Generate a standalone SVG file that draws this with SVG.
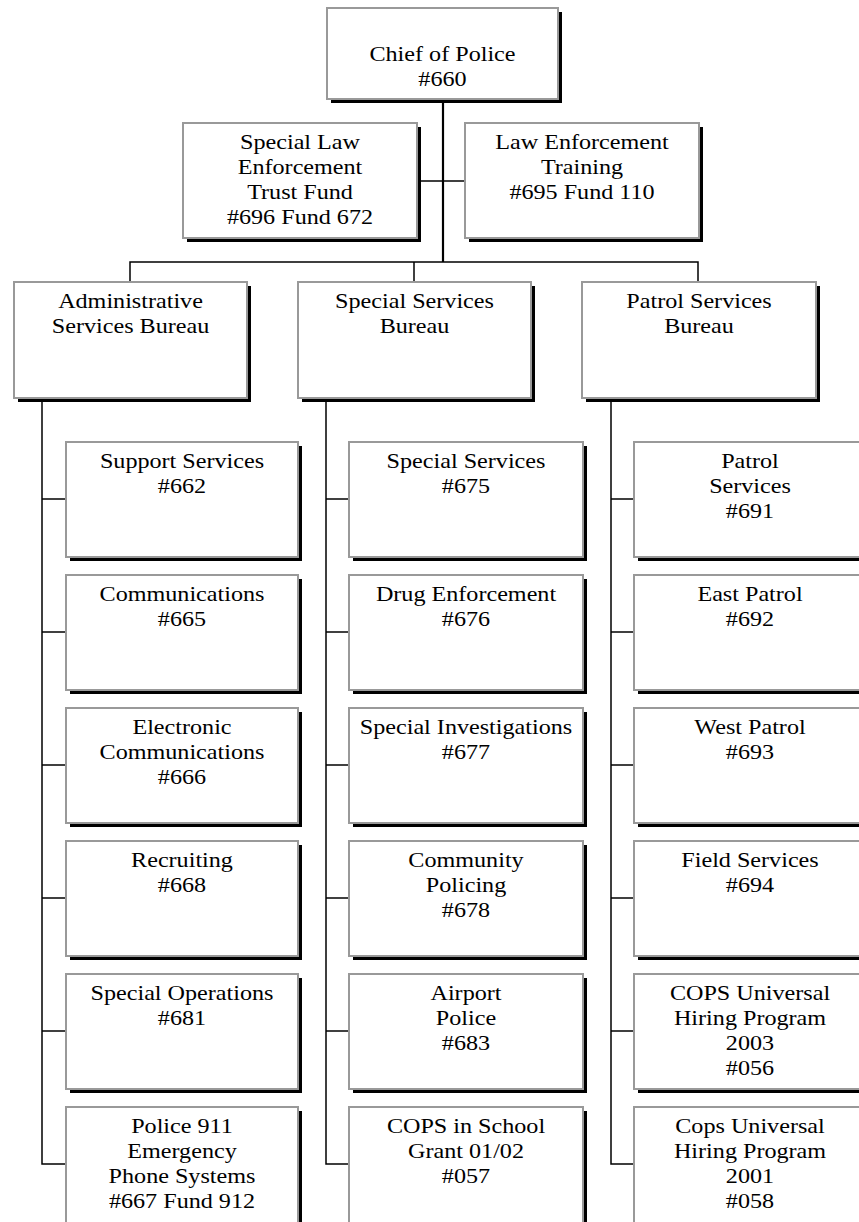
<svg xmlns="http://www.w3.org/2000/svg" width="859" height="1222" viewBox="0 0 859 1222">
<style>
.sh{fill:#000}
.bx{fill:#fff;stroke:#999;stroke-width:2}
.t{font-family:"Liberation Serif","Times New Roman",serif;font-size:21px;fill:#000;text-anchor:middle}
.ln{stroke:#000;stroke-width:1.5;fill:none}
.tr{stroke:#000;stroke-width:2.2;fill:none}
</style>
<rect width="859" height="1222" fill="#fff"/>
<g id="connectors">
<line class="tr" x1="443" y1="99" x2="443" y2="262"/>
<line class="ln" x1="417" y1="181" x2="465" y2="181"/>
<polyline class="ln" points="130,282 130,262 698,262 698,282"/>
<line class="ln" x1="414" y1="262" x2="414" y2="282"/>
<polyline class="ln" points="42,398 42,1164 66,1164"/>
<line class="ln" x1="42" y1="499" x2="66" y2="499"/>
<line class="ln" x1="42" y1="632" x2="66" y2="632"/>
<line class="ln" x1="42" y1="765" x2="66" y2="765"/>
<line class="ln" x1="42" y1="898" x2="66" y2="898"/>
<line class="ln" x1="42" y1="1031" x2="66" y2="1031"/>
<polyline class="ln" points="326,398 326,1164 349,1164"/>
<line class="ln" x1="326" y1="499" x2="349" y2="499"/>
<line class="ln" x1="326" y1="632" x2="349" y2="632"/>
<line class="ln" x1="326" y1="765" x2="349" y2="765"/>
<line class="ln" x1="326" y1="898" x2="349" y2="898"/>
<line class="ln" x1="326" y1="1031" x2="349" y2="1031"/>
<polyline class="ln" points="611,398 611,1164 634,1164"/>
<line class="ln" x1="611" y1="499" x2="634" y2="499"/>
<line class="ln" x1="611" y1="632" x2="634" y2="632"/>
<line class="ln" x1="611" y1="765" x2="634" y2="765"/>
<line class="ln" x1="611" y1="898" x2="634" y2="898"/>
<line class="ln" x1="611" y1="1031" x2="634" y2="1031"/>
</g>

<g id="n660"><rect class="sh" x="331" y="12" width="231" height="91"/><rect class="bx" x="327" y="8" width="231" height="91"/>
<text class="t" transform="translate(442.5,61) scale(1.15,1)"><tspan x="0">Chief of Police</tspan><tspan x="0" dy="25">#660</tspan></text></g>

<g id="n696"><rect class="sh" x="187" y="127" width="234" height="115"/><rect class="bx" x="183" y="123" width="234" height="115"/>
<text class="t" transform="translate(300,149) scale(1.15,1)"><tspan x="0">Special Law</tspan><tspan x="0" dy="25">Enforcement</tspan><tspan x="0" dy="25">Trust Fund</tspan><tspan x="0" dy="25">#696 Fund 672</tspan></text></g>

<g id="n695"><rect class="sh" x="469" y="127" width="234" height="115"/><rect class="bx" x="465" y="123" width="234" height="115"/>
<text class="t" transform="translate(582,149) scale(1.15,1)"><tspan x="0">Law Enforcement</tspan><tspan x="0" dy="25">Training</tspan><tspan x="0" dy="25">#695 Fund 110</tspan></text></g>

<g id="asb"><rect class="sh" x="18" y="286" width="233" height="116"/><rect class="bx" x="14" y="282" width="233" height="116"/>
<text class="t" transform="translate(130.5,308) scale(1.15,1)"><tspan x="0">Administrative</tspan><tspan x="0" dy="25">Services Bureau</tspan></text></g>

<g id="ssb"><rect class="sh" x="302" y="286" width="233" height="116"/><rect class="bx" x="298" y="282" width="233" height="116"/>
<text class="t" transform="translate(414.5,308) scale(1.15,1)"><tspan x="0">Special Services</tspan><tspan x="0" dy="25">Bureau</tspan></text></g>

<g id="psb"><rect class="sh" x="586" y="286" width="234" height="116"/><rect class="bx" x="582" y="282" width="234" height="116"/>
<text class="t" transform="translate(699,308) scale(1.15,1)"><tspan x="0">Patrol Services</tspan><tspan x="0" dy="25">Bureau</tspan></text></g>

<!-- Administrative column -->
<g id="n662"><rect class="sh" x="70" y="446" width="232" height="115"/><rect class="bx" x="66" y="442" width="232" height="115"/>
<text class="t" transform="translate(182,468) scale(1.15,1)"><tspan x="0">Support Services</tspan><tspan x="0" dy="25">#662</tspan></text></g>
<g id="n665"><rect class="sh" x="70" y="579" width="232" height="115"/><rect class="bx" x="66" y="575" width="232" height="115"/>
<text class="t" transform="translate(182,601) scale(1.15,1)"><tspan x="0">Communications</tspan><tspan x="0" dy="25">#665</tspan></text></g>
<g id="n666"><rect class="sh" x="70" y="712" width="232" height="115"/><rect class="bx" x="66" y="708" width="232" height="115"/>
<text class="t" transform="translate(182,734) scale(1.15,1)"><tspan x="0">Electronic</tspan><tspan x="0" dy="25">Communications</tspan><tspan x="0" dy="25">#666</tspan></text></g>
<g id="n668"><rect class="sh" x="70" y="845" width="232" height="115"/><rect class="bx" x="66" y="841" width="232" height="115"/>
<text class="t" transform="translate(182,867) scale(1.15,1)"><tspan x="0">Recruiting</tspan><tspan x="0" dy="25">#668</tspan></text></g>
<g id="n681"><rect class="sh" x="70" y="978" width="232" height="115"/><rect class="bx" x="66" y="974" width="232" height="115"/>
<text class="t" transform="translate(182,1000) scale(1.15,1)"><tspan x="0">Special Operations</tspan><tspan x="0" dy="25">#681</tspan></text></g>
<g id="n667"><rect class="sh" x="70" y="1111" width="232" height="120"/><rect class="bx" x="66" y="1107" width="232" height="125"/>
<text class="t" transform="translate(182,1133) scale(1.15,1)"><tspan x="0">Police 911</tspan><tspan x="0" dy="25">Emergency</tspan><tspan x="0" dy="25">Phone Systems</tspan><tspan x="0" dy="25">#667 Fund 912</tspan></text></g>

<!-- Special Services column -->
<g id="n675"><rect class="sh" x="353" y="446" width="234" height="115"/><rect class="bx" x="349" y="442" width="234" height="115"/>
<text class="t" transform="translate(466,468) scale(1.15,1)"><tspan x="0">Special Services</tspan><tspan x="0" dy="25">#675</tspan></text></g>
<g id="n676"><rect class="sh" x="353" y="579" width="234" height="115"/><rect class="bx" x="349" y="575" width="234" height="115"/>
<text class="t" transform="translate(466,601) scale(1.15,1)"><tspan x="0">Drug Enforcement</tspan><tspan x="0" dy="25">#676</tspan></text></g>
<g id="n677"><rect class="sh" x="353" y="712" width="234" height="115"/><rect class="bx" x="349" y="708" width="234" height="115"/>
<text class="t" transform="translate(466,734) scale(1.15,1)"><tspan x="0">Special Investigations</tspan><tspan x="0" dy="25">#677</tspan></text></g>
<g id="n678"><rect class="sh" x="353" y="845" width="234" height="115"/><rect class="bx" x="349" y="841" width="234" height="115"/>
<text class="t" transform="translate(466,867) scale(1.15,1)"><tspan x="0">Community</tspan><tspan x="0" dy="25">Policing</tspan><tspan x="0" dy="25">#678</tspan></text></g>
<g id="n683"><rect class="sh" x="353" y="978" width="234" height="115"/><rect class="bx" x="349" y="974" width="234" height="115"/>
<text class="t" transform="translate(466,1000) scale(1.15,1)"><tspan x="0">Airport</tspan><tspan x="0" dy="25">Police</tspan><tspan x="0" dy="25">#683</tspan></text></g>
<g id="n057"><rect class="sh" x="353" y="1111" width="234" height="120"/><rect class="bx" x="349" y="1107" width="234" height="125"/>
<text class="t" transform="translate(466,1133) scale(1.15,1)"><tspan x="0">COPS in School</tspan><tspan x="0" dy="25">Grant 01/02</tspan><tspan x="0" dy="25">#057</tspan></text></g>

<!-- Patrol column -->
<g id="n691"><rect class="sh" x="638" y="446" width="232" height="115"/><rect class="bx" x="634" y="442" width="232" height="115"/>
<text class="t" transform="translate(750,468) scale(1.15,1)"><tspan x="0">Patrol</tspan><tspan x="0" dy="25">Services</tspan><tspan x="0" dy="25">#691</tspan></text></g>
<g id="n692"><rect class="sh" x="638" y="579" width="232" height="115"/><rect class="bx" x="634" y="575" width="232" height="115"/>
<text class="t" transform="translate(750,601) scale(1.15,1)"><tspan x="0">East Patrol</tspan><tspan x="0" dy="25">#692</tspan></text></g>
<g id="n693"><rect class="sh" x="638" y="712" width="232" height="115"/><rect class="bx" x="634" y="708" width="232" height="115"/>
<text class="t" transform="translate(750,734) scale(1.15,1)"><tspan x="0">West Patrol</tspan><tspan x="0" dy="25">#693</tspan></text></g>
<g id="n694"><rect class="sh" x="638" y="845" width="232" height="115"/><rect class="bx" x="634" y="841" width="232" height="115"/>
<text class="t" transform="translate(750,867) scale(1.15,1)"><tspan x="0">Field Services</tspan><tspan x="0" dy="25">#694</tspan></text></g>
<g id="n056"><rect class="sh" x="638" y="978" width="232" height="115"/><rect class="bx" x="634" y="974" width="232" height="115"/>
<text class="t" transform="translate(750,1000) scale(1.15,1)"><tspan x="0">COPS Universal</tspan><tspan x="0" dy="25">Hiring Program</tspan><tspan x="0" dy="25">2003</tspan><tspan x="0" dy="25">#056</tspan></text></g>
<g id="n058"><rect class="sh" x="638" y="1111" width="232" height="120"/><rect class="bx" x="634" y="1107" width="232" height="125"/>
<text class="t" transform="translate(750,1133) scale(1.15,1)"><tspan x="0">Cops Universal</tspan><tspan x="0" dy="25">Hiring Program</tspan><tspan x="0" dy="25">2001</tspan><tspan x="0" dy="25">#058</tspan></text></g>
</svg>
